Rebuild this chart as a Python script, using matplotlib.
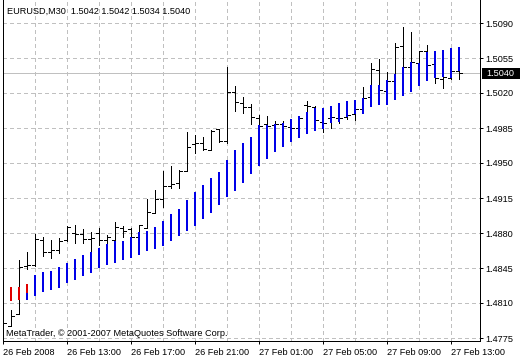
import matplotlib
matplotlib.use("Agg")
import matplotlib.pyplot as plt
import matplotlib.transforms as mtransforms
from matplotlib.patches import Rectangle
import numpy as np

# EURUSD M30, 26 Feb 2008 09:00 -> 27 Feb 2008 13:30 (58 bars)
opens = [1.4788, 1.4787, 1.4799, 1.4847, 1.4848, 1.4873, 1.4861, 1.4863, 1.4873, 1.4880,
         1.4879, 1.4874, 1.4880, 1.4873, 1.4873, 1.4885, 1.4884, 1.4876, 1.4885, 1.4900,
         1.4914, 1.4927, 1.4930, 1.4942, 1.4969, 1.4970, 1.4963, 1.4984, 1.4972, 1.5021,
         1.5010, 1.5006, 1.4995, 1.4989, 1.4988, 1.4989, 1.4986, 1.4985, 1.5008, 1.5006,
         1.4991, 1.4995, 1.4995, 1.4996, 1.4999, 1.5004, 1.5016, 1.5043, 1.5022, 1.5032,
         1.5067, 1.5046, 1.5050, 1.5062, 1.5049, 1.5034, 1.5035, 1.5042]
highs = [1.4795, 1.4803, 1.4853, 1.4861, 1.4879, 1.4876, 1.4873, 1.4875, 1.4887, 1.4888,
         1.4884, 1.4881, 1.4885, 1.4878, 1.4891, 1.4887, 1.4885, 1.4888, 1.4914, 1.4923,
         1.4942, 1.4947, 1.4943, 1.4981, 1.4978, 1.4976, 1.4983, 1.4984, 1.5046, 1.5027,
         1.5016, 1.5009, 1.4998, 1.4997, 1.4992, 1.4992, 1.4988, 1.4996, 1.5012, 1.5007,
         1.4993, 1.4997, 1.4998, 1.5000, 1.5008, 1.5026, 1.5050, 1.5054, 1.5041, 1.5070,
         1.5086, 1.5081, 1.5062, 1.5068, 1.5051, 1.5039, 1.5043, 1.5042]
lows = [1.4779, 1.4787, 1.4799, 1.4844, 1.4847, 1.4857, 1.4855, 1.4860, 1.4872, 1.4870,
        1.4870, 1.4861, 1.4868, 1.4866, 1.4873, 1.4876, 1.4875, 1.4875, 1.4885, 1.4900,
        1.4906, 1.4925, 1.4925, 1.4942, 1.4960, 1.4963, 1.4963, 1.4971, 1.4970, 1.5002,
        1.5000, 1.4989, 1.4985, 1.4983, 1.4979, 1.4981, 1.4983, 1.4984, 1.5000, 1.4992,
        1.4981, 1.4985, 1.4990, 1.4994, 1.4993, 1.5001, 1.5013, 1.5022, 1.5021, 1.5030,
        1.5043, 1.5045, 1.5047, 1.5045, 1.5030, 1.5025, 1.5034, 1.5034]
closes = [1.4790, 1.4797, 1.4846, 1.4848, 1.4874, 1.4861, 1.4863, 1.4872, 1.4886, 1.4879,
          1.4874, 1.4875, 1.4873, 1.4876, 1.4886, 1.4882, 1.4876, 1.4888, 1.4901, 1.4914,
          1.4927, 1.4929, 1.4942, 1.4966, 1.4970, 1.4964, 1.4982, 1.4972, 1.5021, 1.5011,
          1.5006, 1.4996, 1.4987, 1.4987, 1.4989, 1.4987, 1.4985, 1.4995, 1.5007, 1.4993,
          1.4990, 1.4996, 1.4995, 1.4998, 1.5004, 1.5015, 1.5044, 1.5023, 1.5032, 1.5066,
          1.5046, 1.5051, 1.5062, 1.5048, 1.5035, 1.5036, 1.5042, 1.5040]

# indicator histogram (blue part, bars 3..57) and red part (bars 0..3)
nan = np.nan
blue_top = [nan, nan, nan, 1.4820, 1.4838, 1.4841, 1.4842, 1.4846, 1.4850, 1.4854,
            1.4858, 1.4861, 1.4865, 1.4869, 1.4872, 1.4872, 1.4876, 1.4881, 1.4882, 1.4886,
            1.4892, 1.4899, 1.4904, 1.4913, 1.4921, 1.4928, 1.4935, 1.4941, 1.4953, 1.4963,
            1.4970, 1.4976, 1.4988, 1.4988, 1.4989, 1.4990, 1.4994, 1.4997, 1.5001, 1.5005,
            1.5005, 1.5007, 1.5010, 1.5012, 1.5013, 1.5015, 1.5028, 1.5028, 1.5033, 1.5039,
            1.5046, 1.5051, 1.5050, 1.5061, 1.5062, 1.5063, 1.5065, 1.5066]
blue_bot = [nan, nan, nan, 1.4813, 1.4817, 1.4821, 1.4823, 1.4825, 1.4830, 1.4833,
            1.4837, 1.4840, 1.4845, 1.4848, 1.4850, 1.4853, 1.4855, 1.4858, 1.4862, 1.4864,
            1.4867, 1.4872, 1.4877, 1.4882, 1.4887, 1.4894, 1.4900, 1.4908, 1.4916, 1.4922,
            1.4930, 1.4939, 1.4947, 1.4954, 1.4961, 1.4966, 1.4971, 1.4975, 1.4979, 1.4982,
            1.4984, 1.4990, 1.4991, 1.4996, 1.4999, 1.4999, 1.5006, 1.5008, 1.5008, 1.5013,
            1.5017, 1.5021, 1.5027, 1.5032, 1.5035, 1.5036, 1.5035, 1.5042]
red_idx = [0, 1, 2, 3]
red_top = [1.4826, 1.4826, 1.4826, 1.4829]
red_bot = [1.4815, 1.4812, 1.4813, 1.4820]

xtick_pos = [0, 8, 16, 24, 32, 40, 48, 56]
xtick_labels = ["26 Feb 2008", "26 Feb 13:00", "26 Feb 17:00", "26 Feb 21:00",
                "27 Feb 01:00", "27 Feb 05:00", "27 Feb 09:00", "27 Feb 13:00"]
ytick_vals = [1.4775, 1.4810, 1.4845, 1.4880, 1.4915, 1.4950, 1.4985, 1.5020, 1.5055, 1.5090]
last_price = 1.5040
header = "EURUSD,M30  1.5042 1.5042 1.5034 1.5040"

plt.rcParams['font.family'] = 'Liberation Sans'
plt.rcParams['lines.scale_dashes'] = False
fs = 6.6
px = 0.72  # 1 pixel in points at 100 dpi

fig = plt.figure(figsize=(5.2, 3.6), dpi=100)
ax = fig.add_axes([3/520, 19/360, 477/520, 341/360])
ax.set_xlim(0, 477/8)
ax.set_ylim(1.4772, 1.5113)

# grid
for gx in range(4, 60, 4):
    ax.axvline(gx, color='#c0c0c0', lw=px, ls=(0, (2.2, 2.2)), zorder=0, antialiased=False)
for gy in ytick_vals:
    ax.axhline(gy, color='#c0c0c0', lw=px, ls=(0, (2.2, 2.2)), zorder=0, antialiased=False)
ax.axhline(last_price, color='#c0c0c0', lw=px, zorder=0.5, antialiased=False)

x = np.arange(len(opens))
ax.vlines(x, lows, highs, color='black', lw=px, antialiased=False)
ax.hlines(opens, x - 0.375, x, color='black', lw=px, antialiased=False)
ax.hlines(closes, x, x + 0.375, color='black', lw=px, antialiased=False)
ax.vlines(x, blue_bot, blue_top, color='#0000e8', lw=2 * px, snap=False)
ax.vlines(red_idx, red_bot, red_top, color='#e00000', lw=2 * px, snap=False)

for s in ['left', 'bottom', 'right']:
    ax.spines[s].set_linewidth(px)
    ax.spines[s].set_color('black')
ax.spines['top'].set_visible(False)

ax.yaxis.tick_right()
ax.set_yticks(ytick_vals)
ax.set_yticklabels([f"{v:.4f}" for v in ytick_vals])
ax.set_xticks(xtick_pos)
ax.set_xticklabels(xtick_labels)
for lab in ax.get_xticklabels():
    lab.set_horizontalalignment('left')
ax.tick_params(axis='both', direction='out', length=2.2, width=px, labelsize=fs, pad=1.5, colors='black')
ax.tick_params(axis='x', pad=2.5)

# last price marker on the price scale
bt = mtransforms.blended_transform_factory(ax.transAxes, ax.transData)
ax.add_patch(Rectangle((479/477, last_price - 0.00055), 38/477, 0.0011, transform=bt,
                       facecolor='black', edgecolor='none', clip_on=False, zorder=5))
ax.text(483/477, last_price, f"{last_price:.4f}", transform=bt, color='white', fontsize=fs,
        va='center', ha='left', clip_on=False, zorder=6)

fig.text(7/520, 1 - 11/360, header, fontsize=fs, va='center', ha='left')
fig.text(6/520, 1 - 334/360, "MetaTrader, \u00a9 2001-2007 MetaQuotes Software Corp.",
         fontsize=fs, va='center', ha='left')

fig.savefig("out.png", dpi=100)
